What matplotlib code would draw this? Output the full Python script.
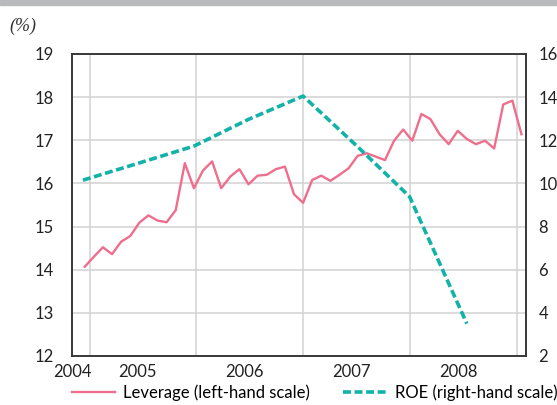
import numpy as np
import matplotlib
matplotlib.use("Agg")
import matplotlib.pyplot as plt
from matplotlib.patches import Rectangle

# ── Data ──────────────────────────────────────────────────────────────────────
# leverage: monthly observations, index 0 = first month shown
leverage = [14.07, 14.30, 14.52, 14.36, 14.65, 14.78, 15.09, 15.26, 15.14, 15.10,
            15.38, 16.47, 15.89, 16.30, 16.51, 15.89, 16.16, 16.33, 15.98, 16.18,
            16.20, 16.33, 16.39, 15.75, 15.55, 16.08, 16.18, 16.06, 16.20, 16.35,
            16.64, 16.70, 16.62, 16.54, 16.99, 17.25, 16.99, 17.61, 17.49, 17.14,
            16.91, 17.22, 17.03, 16.91, 16.99, 16.81, 17.83, 17.92, 17.14]
lev_x = np.arange(len(leverage))

roe_x = [-0.2, 6, 12, 18, 24, 30, 35.7, 42]
roe   = [10.15, 10.95, 11.73, 12.97, 14.05, 11.70, 9.39, 3.50]

years      = ["2004", "2005", "2006", "2007", "2008"]
year_pos   = [-1.4, 5.8, 17.5, 29.3, 41.1]
year_grid  = [0.54, 12.24, 24.02, 35.76, 47.54]

PINK = "#ee6e8d"
TEAL = "#13b2a9"
FONT = "Lato"

plt.rcParams["font.family"] = [FONT, "DejaVu Sans"]

fig = plt.figure(figsize=(5.57, 4.05), dpi=100)
ax = fig.add_axes([72 / 557, 1 - 356 / 405, (526 - 72) / 557, (356 - 54) / 405])
ax2 = ax.twinx()

# top grey band
fig.patches.append(Rectangle((0, 1 - 5 / 405), 1, 5 / 405, transform=fig.transFigure,
                             color="#b9babe", zorder=0))

# grid
for gx in year_grid:
    ax.axvline(gx, color="#d2d2d2", lw=1.1, zorder=0)
for gy in range(13, 19):
    ax.axhline(gy, color="#d2d2d2", lw=1.1, zorder=0)

l1, = ax.plot(lev_x, leverage, color=PINK, lw=1.7, zorder=3,
              label="Leverage (left-hand scale)")
l2, = ax2.plot(roe_x, roe, color=TEAL, lw=2.6, linestyle=(0, (2.2, 1.0)),
               label="ROE (right-hand scale)")

ax.set_xlim(-0.48, 48.5)
ax.set_ylim(12, 19)
ax2.set_ylim(2, 16)
ax.set_yticks(range(12, 20))
ax2.set_yticks(range(2, 17, 2))

ax.set_xticks(year_pos)
ax.set_xticklabels(years)
ax.tick_params(axis="x", length=0, pad=6, labelsize=12, colors="#222222")
ax.tick_params(axis="y", length=0, pad=13, labelsize=12, colors="#222222")
ax2.tick_params(axis="y", length=0, pad=9, labelsize=12, colors="#222222")

for a in (ax, ax2):
    for s in a.spines.values():
        s.set_color("#333333")
        s.set_linewidth(1.1)

fig.text(9 / 557, 1 - 26 / 405, "(%)", fontsize=13, style="italic",
         family="Liberation Serif", va="center", ha="left", color="#333333")

fig.legend(handles=[l1, l2], loc="center", bbox_to_anchor=(0.565, 1 - 393 / 405),
           ncol=2, frameon=False, fontsize=12, handlelength=2.6, handletextpad=0.5,
           columnspacing=2.0, borderaxespad=0)

fig.savefig("out.png", dpi=100)
